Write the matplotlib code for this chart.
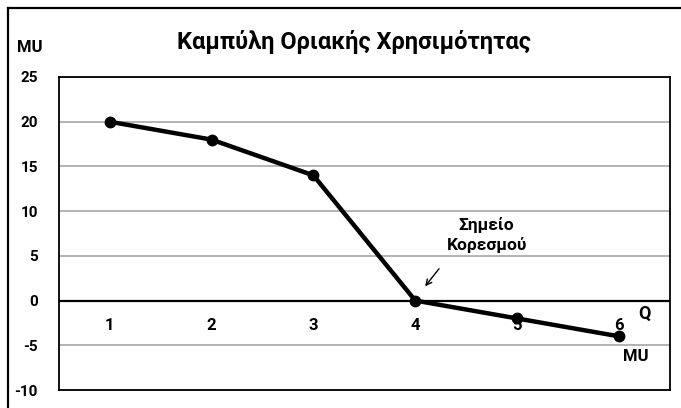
import matplotlib
matplotlib.use('Agg')
import matplotlib.pyplot as plt
from matplotlib.lines import Line2D

plt.rcParams['font.family'] = ['Roboto', 'DejaVu Sans']
plt.rcParams['axes.unicode_minus'] = False

# data
Q = [1, 2, 3, 4, 5, 6]
MU = [20, 18, 14, 0, -2, -4]
Y_TICKS = [-10, -5, 0, 5, 10, 15, 20, 25]
TITLE = "Καμπύλη Οριακής Χρησιμότητας"
NOTE = "Σημείο\nΚορεσμού"

fig = plt.figure(figsize=(6.81, 4.08), dpi=100)
ax = fig.add_axes([0.0862, 0.0441, 0.8976, 0.7672])

# outer frame (only top and left visible in the crop)
fig.add_artist(Line2D([8/681, 1.0], [1 - 8/408, 1 - 8/408], transform=fig.transFigure,
                      color='black', linewidth=1.6))
fig.add_artist(Line2D([8/681, 8/681], [0.0, 1 - 8/408], transform=fig.transFigure,
                      color='black', linewidth=1.6))

ax.set_xlim(0.5, 6.5)
ax.set_ylim(-10, 25)
ax.set_yticks(Y_TICKS)
ax.set_xticks([])
ax.tick_params(axis='y', length=0, pad=15)
for lbl in ax.get_yticklabels():
    lbl.set_fontweight('bold')
    lbl.set_fontsize(11)

ax.grid(True, axis='y', color='#b3b3b3', linewidth=1.4)
ax.set_axisbelow(True)
for s in ax.spines.values():
    s.set_color('black')
    s.set_linewidth(1.3)
ax.axhline(0, color='black', linewidth=1.6, zorder=2)

ax.plot(Q, MU, color='black', linewidth=3.2, marker='o', markersize=7.5, zorder=3)

# category labels next to the zero line
for q in Q:
    ax.text(q, -2.8, str(q), ha='center', va='center', fontsize=12, fontweight='bold')

ax.text(6.25, -1.45, "Q", ha='center', va='center', fontsize=13, fontweight='bold')
ax.text(6.16, -6.3, "MU", ha='center', va='center', fontsize=12, fontweight='bold')

ax.text(4.7, 7.35, NOTE, ha='center', va='center', fontsize=12.5, fontweight='bold',
        linespacing=1.35)
ax.annotate("", xy=(4.08, 1.35), xytext=(4.25, 3.8),
            arrowprops=dict(arrowstyle='->', color='black', linewidth=1.0))

fig.text(30/681, 1 - 48/408, "MU", ha='center', va='center', fontsize=12, fontweight='bold')
fig.text(354/681, 1 - 42/408, TITLE, ha='center', va='center', fontsize=17, fontweight='bold')

fig.savefig("out.png", dpi=100)
